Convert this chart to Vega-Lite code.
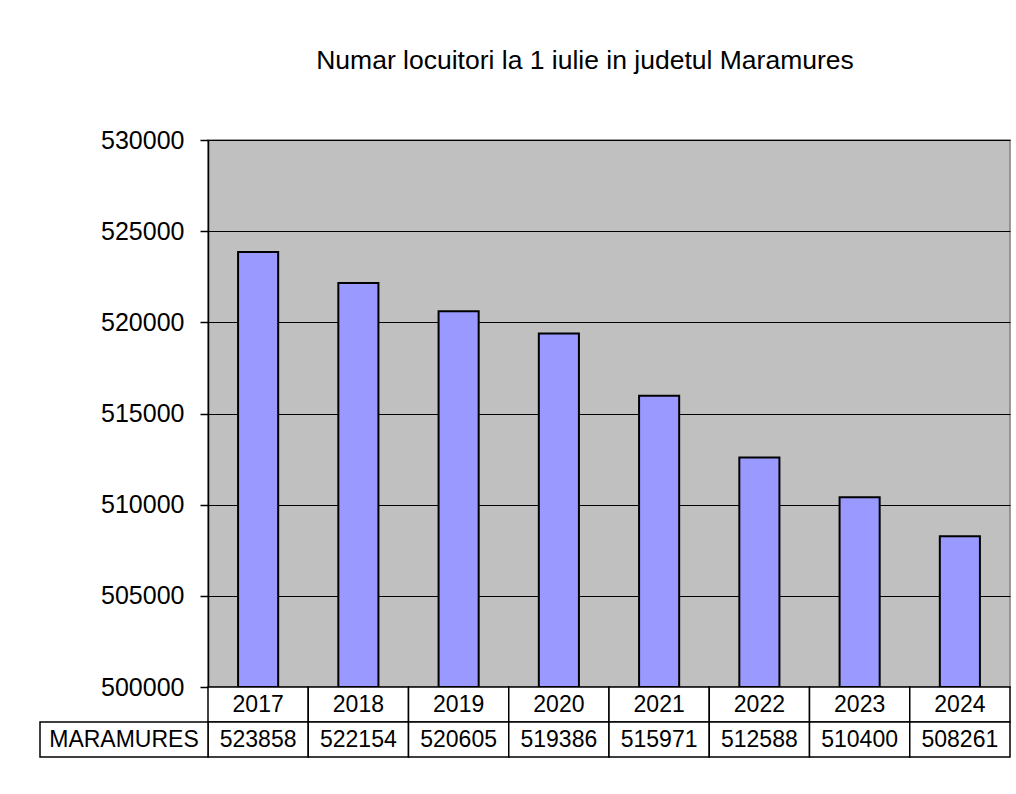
{
  "$schema": "https://vega.github.io/schema/vega-lite/v6.json",
  "autosize": "none",
  "width": 802,
  "height": 547,
  "padding": {"left": 208, "top": 140, "right": 6, "bottom": 107},
  "background": "white",
  "title": {
    "text": "Numar locuitori la 1 iulie in judetul Maramures",
    "fontSize": 26.5,
    "fontWeight": "normal",
    "color": "black",
    "anchor": "middle",
    "frame": "group",
    "dx": -24,
    "baseline": "alphabetic",
    "offset": 33
  },
  "config": {
    "font": "Liberation Sans",
    "view": {"fill": "#C0C0C0", "stroke": "#808080", "strokeWidth": 1.5}
  },
  "data": {
    "values": [
      {"year": "2017", "judet": "MARAMURES", "locuitori": 523858},
      {"year": "2018", "judet": "MARAMURES", "locuitori": 522154},
      {"year": "2019", "judet": "MARAMURES", "locuitori": 520605},
      {"year": "2020", "judet": "MARAMURES", "locuitori": 519386},
      {"year": "2021", "judet": "MARAMURES", "locuitori": 515971},
      {"year": "2022", "judet": "MARAMURES", "locuitori": 512588},
      {"year": "2023", "judet": "MARAMURES", "locuitori": 510400},
      {"year": "2024", "judet": "MARAMURES", "locuitori": 508261}
    ]
  },
  "resolve": {"scale": {"x": "independent", "y": "independent"}},
  "layer": [
    {
      "mark": {"type": "bar", "fill": "#9999FF", "stroke": "black", "strokeWidth": 2, "width": {"band": 0.4}},
      "encoding": {
        "x": {"field": "year", "type": "nominal", "scale": {"paddingInner": 0, "paddingOuter": 0}, "axis": null},
        "y": {
          "field": "locuitori", "type": "quantitative",
          "scale": {"domain": [500000, 530000], "nice": false, "zero": false},
          "axis": {
            "values": [500000, 505000, 510000, 515000, 520000, 525000, 530000],
            "format": "d",
            "title": null,
            "grid": true,
            "gridColor": "black",
            "gridOpacity": 1,
            "gridWidth": 1,
            "domainColor": "black",
            "domainWidth": 1.5,
            "tickColor": "black",
            "tickSize": 8,
            "tickWidth": 1.5,
            "labelFontSize": 25,
            "labelColor": "black",
            "labelPadding": 16
          }
        },
        "y2": {"datum": 500000}
      }
    },
    {
      "mark": {"type": "rect", "fill": "white", "stroke": "black", "strokeWidth": 1.5},
      "encoding": {
        "x": {"field": "year", "type": "nominal", "scale": {"paddingInner": 0, "paddingOuter": 0}, "axis": null},
        "y": {"datum": "an", "type": "nominal", "scale": {"domain": ["an", "valoare"], "range": [547, 617], "paddingInner": 0, "paddingOuter": 0}, "axis": null}
      }
    },
    {
      "mark": {"type": "text", "fontSize": 23, "color": "black", "baseline": "middle", "align": "center"},
      "encoding": {
        "x": {"field": "year", "type": "nominal", "scale": {"paddingInner": 0, "paddingOuter": 0}, "axis": null},
        "y": {"datum": "an", "type": "nominal", "scale": {"domain": ["an", "valoare"], "range": [547, 617], "paddingInner": 0, "paddingOuter": 0}, "axis": null},
        "text": {"field": "year", "type": "nominal"}
      }
    },
    {
      "mark": {"type": "rect", "fill": "white", "stroke": "black", "strokeWidth": 1.5},
      "encoding": {
        "x": {"field": "year", "type": "nominal", "scale": {"paddingInner": 0, "paddingOuter": 0}, "axis": null},
        "y": {"datum": "valoare", "type": "nominal", "scale": {"domain": ["an", "valoare"], "range": [547, 617], "paddingInner": 0, "paddingOuter": 0}, "axis": null}
      }
    },
    {
      "mark": {"type": "text", "fontSize": 23, "color": "black", "baseline": "middle", "align": "center"},
      "encoding": {
        "x": {"field": "year", "type": "nominal", "scale": {"paddingInner": 0, "paddingOuter": 0}, "axis": null},
        "y": {"datum": "valoare", "type": "nominal", "scale": {"domain": ["an", "valoare"], "range": [547, 617], "paddingInner": 0, "paddingOuter": 0}, "axis": null},
        "text": {"field": "locuitori", "type": "quantitative", "format": "d"}
      }
    },
    {
      "transform": [{"aggregate": [], "groupby": ["judet"]}],
      "mark": {"type": "rect", "fill": "white", "stroke": "black", "strokeWidth": 1.5},
      "encoding": {
        "x": {"field": "judet", "type": "nominal", "scale": {"range": [-168, 0], "paddingInner": 0, "paddingOuter": 0}, "axis": null},
        "y": {"datum": "valoare", "type": "nominal", "scale": {"domain": ["an", "valoare"], "range": [547, 617], "paddingInner": 0, "paddingOuter": 0}, "axis": null}
      }
    },
    {
      "transform": [{"aggregate": [], "groupby": ["judet"]}],
      "mark": {"type": "text", "fontSize": 23, "color": "black", "baseline": "middle", "align": "center"},
      "encoding": {
        "x": {"field": "judet", "type": "nominal", "scale": {"range": [-168, 0], "paddingInner": 0, "paddingOuter": 0}, "axis": null},
        "y": {"datum": "valoare", "type": "nominal", "scale": {"domain": ["an", "valoare"], "range": [547, 617], "paddingInner": 0, "paddingOuter": 0}, "axis": null},
        "text": {"field": "judet", "type": "nominal"}
      }
    }
  ]
}
